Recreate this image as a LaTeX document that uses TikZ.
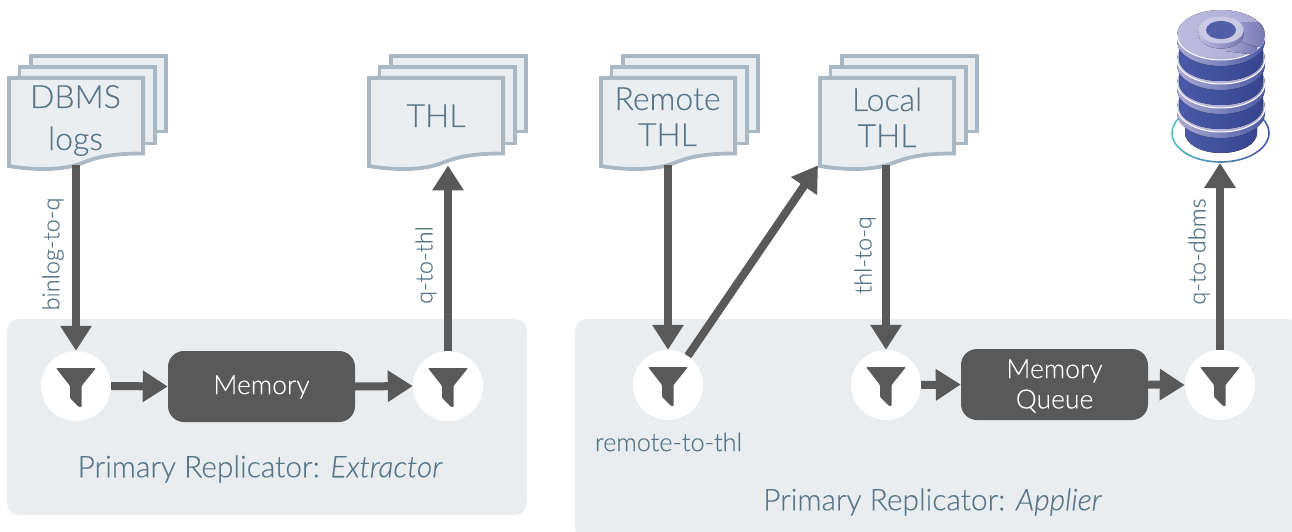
\documentclass[tikz,border=0pt]{standalone}
\usepackage{fontspec}
\setmainfont{Lato Light}[RawFeature={embolden=0.3},ItalicFeatures={RawFeature={embolden=0.3}}]
\usetikzlibrary{arrows.meta}
\definecolor{panel}{HTML}{E9EDF0}
\definecolor{docline}{HTML}{A9B8C2}
\definecolor{docfill}{HTML}{EBEEF1}
\definecolor{txt}{HTML}{587688}
\definecolor{dark}{HTML}{595959}
\definecolor{dbA}{HTML}{BDBBDE}
\definecolor{dbA2}{HTML}{ABAAD4}
\definecolor{dbB}{HTML}{7777B4}
\definecolor{dbC}{HTML}{4A5AA6}
\definecolor{dbD}{HTML}{36458F}
\definecolor{ringA}{HTML}{4FC0C4}
\definecolor{ringB}{HTML}{4A5AA6}
\tikzset{
  x=1pt,y=-1pt,
  panelbox/.style={fill=panel,rounded corners=12pt},
  sheet/.style={draw=docline,fill=docfill,line width=3.8pt,line join=miter},
  docframe/.style={inner sep=0pt,minimum width=138pt,minimum height=89pt,anchor=north west},
  doctext/.style={inner sep=0pt,anchor=base,text=txt,font=\fontsize{32}{38}\selectfont},
  filterdisc/.style={circle,fill=white,minimum size=70pt,inner sep=0pt},
  funnel/.style={fill=dark,rounded corners=1pt},
  memorybox/.style={fill=dark,rounded corners=16pt,minimum width=187pt,minimum height=71pt,inner sep=0pt},
  memorytext/.style={text=white,inner sep=0pt,font=\fontsize{26.5}{30}\selectfont},
  flow/.style={draw=dark,line width=8pt,-{Triangle[width=30pt,length=25pt]}},
  edgelabel/.style={text=txt,font=\fontsize{23.5}{25}\selectfont,inner sep=0pt},
  caption/.style={text=txt,font=\fontsize{29.9}{30}\selectfont,inner sep=0pt},
}
\newcommand{\docstack}[3]{% name, x, y
  \begin{scope}[shift={(#2,#3)}]
    \draw[sheet] (23.9,-20.1) rectangle (159.1,55.5);
    \draw[sheet] (12.4,-9.1) rectangle (147.6,67.5);
    \draw[sheet] (1.9,1.9) -- (136.1,1.9) -- (136.1,77.5)
      .. controls (105,77.5) and (90,81) .. (75,87)
      .. controls (55,95) and (25,94) .. (1.9,90) -- cycle;
  \end{scope}
  \node[docframe] (#1) at (#2,#3) {};
}
\newcommand{\filterat}[3]{% name, x, y
  \node[filterdisc] (#1) at (#2,#3) {};
  \begin{scope}[shift={(#2,#3)}]
    \fill[funnel] (-20,-18) -- (20,-18) -- (5.5,0) -- (5.5,21) -- (3,21) -- (-6,12) -- (-6,0) -- cycle;
  \end{scope}
}
\newcommand{\dbdisc}[1]{%
  \begin{scope}[shift={(1221,#1)}]
    \fill[left color=dbA2,right color=dbC] (0,6) ellipse[x radius=44,y radius=25];
    \fill[left color=dbA2,right color=dbC] (-44,0) rectangle (44,6);
    \fill[left color=dbA,right color=dbA2] (0,0) ellipse[x radius=44,y radius=25];
    \draw[white,line width=1pt] (-44,0) arc[start angle=180,end angle=0,x radius=44,y radius=25];
  \end{scope}
}
\newcommand{\dbneck}[1]{%
  \begin{scope}[shift={(1221,#1)}]
    \fill[left color=dbC,right color=dbD] (-42,-24) rectangle (42,0);
    \fill[left color=dbC,right color=dbD] (0,0) ellipse[x radius=42,y radius=22];
    \fill[white,opacity=.18] (-26,-6) ellipse[x radius=9,y radius=3.5];
  \end{scope}
}
\begin{document}
\begin{tikzpicture}
\useasboundingbox (0,0) rectangle (1292,532);
\fill[panelbox] (7,319) rectangle (527,515);
\fill[panelbox] (575,319) rectangle (1300,540);
\clip (0,0) rectangle (1292,532);
% ring
\foreach \a in {0,15,...,345}{
  \pgfmathsetmacro{\b}{\a+16}
  \pgfmathsetmacro{\m}{50+50*cos(\a)}
  \draw[color=ringB!\m!ringA,line width=1.6pt] (1220.5,133) ++({48.5*cos(\a)},{29*sin(\a)})
     arc[start angle=\a,end angle=\b,x radius=48.5,y radius=29];
}
\coordinate (store) at (1220,163);
% database stack
\fill[left color=dbC,right color=dbD] (1185,118) -- (1185,133) arc[start angle=180,end angle=0,x radius=36,y radius=20] -- (1257,118) -- cycle;
\dbdisc{107}
\dbneck{107}
\dbdisc{83}
\dbneck{83}
\dbdisc{59}
\dbneck{59}
\dbdisc{35}
\begin{scope}[shift={(1221,33)}]
  \begin{scope}
    \clip (0,2) ellipse[x radius=44,y radius=25];
    \fill[left color=dbA2,right color=dbB] (4,-10) rectangle (44,14);
    \fill[left color=dbA2,right color=dbB] (4,4) -- (36,14) -- (36,22) -- (4,18) -- cycle;
  \end{scope}
  \fill[left color=dbA,right color=dbB] (0,1) ellipse[x radius=22.5,y radius=14.5];
  \fill[dbA!80!white] (0,-3) ellipse[x radius=22.5,y radius=13.5];
  \fill[dbC!85!dbB] (0,-3) ellipse[x radius=15,y radius=9];
\end{scope}
% documents
\docstack{dbms}{7}{76}
\docstack{thl}{367}{76}
\docstack{remote}{599}{76}
\docstack{local}{818}{76}
\node[doctext] (dbmsa) at (75.5,108) {DBMS};
\node[doctext] (dbmsb) at (75.5,150) {logs};
\node[doctext] (thla) at (436,127) {THL};
\node[doctext] (remotea) at (667.5,110) {Remote};
\node[doctext] (remoteb) at (667.5,146) {THL};
\node[doctext] (locala) at (887,111) {Local};
\node[doctext] (localb) at (887,147) {THL};
% filters
\filterat{f1}{76}{386}
\filterat{f2}{448}{386}
\filterat{f3}{668}{385}
\filterat{f4}{886}{385}
\filterat{f5}{1220}{385}
% memory
\node[memorybox] (mem) at (261.5,386.5) {};
\node[memorybox] (memq) at (1054.5,384.5) {};
\node[memorytext] (memt) at (261.5,387) {Memory};
\node[memorytext] (memqa) at (1054.5,371) {Memory};
\node[memorytext] (memqb) at (1054.5,401) {Queue};
% connectors
\draw[flow] (dbms.south -| f1) -- (f1.north);
\draw[flow] (f1.east) -- (mem.west);
\draw[flow] (mem.east) -- (f2.west);
\draw[flow] (f2.north) -- (thl.south -| f2);
\draw[flow] (remote.south -| f3) -- (f3.north);
\draw[flow] (f3) -- (local.south west);
\draw[flow] (local.south -| f4) -- (f4.north);
\draw[flow] (f4.east) -- (memq.west);
\draw[flow] (memq.east) -- (f5.west);
\draw[flow] (f5.north) -- (store);
% labels
\node[edgelabel,rotate=90] (l1) at (53,254) {binlog-to-q};
\node[edgelabel,rotate=90] (l2) at (426,265) {q-to-thl};
\node[edgelabel,rotate=90] (l3) at (865,255) {thl-to-q};
\node[edgelabel,rotate=90] (l4) at (1199,251.5) {q-to-dbms};
\node[edgelabel,font=\fontsize{25.3}{25}\selectfont] (l5) at (668.5,442) {remote-to-thl};
\node[caption] (c1) at (260,469) {Primary Replicator: \textit{Extractor}};
\node[caption] (c2) at (932.5,502) {Primary Replicator: \textit{Applier}};
\end{tikzpicture}
\end{document}
